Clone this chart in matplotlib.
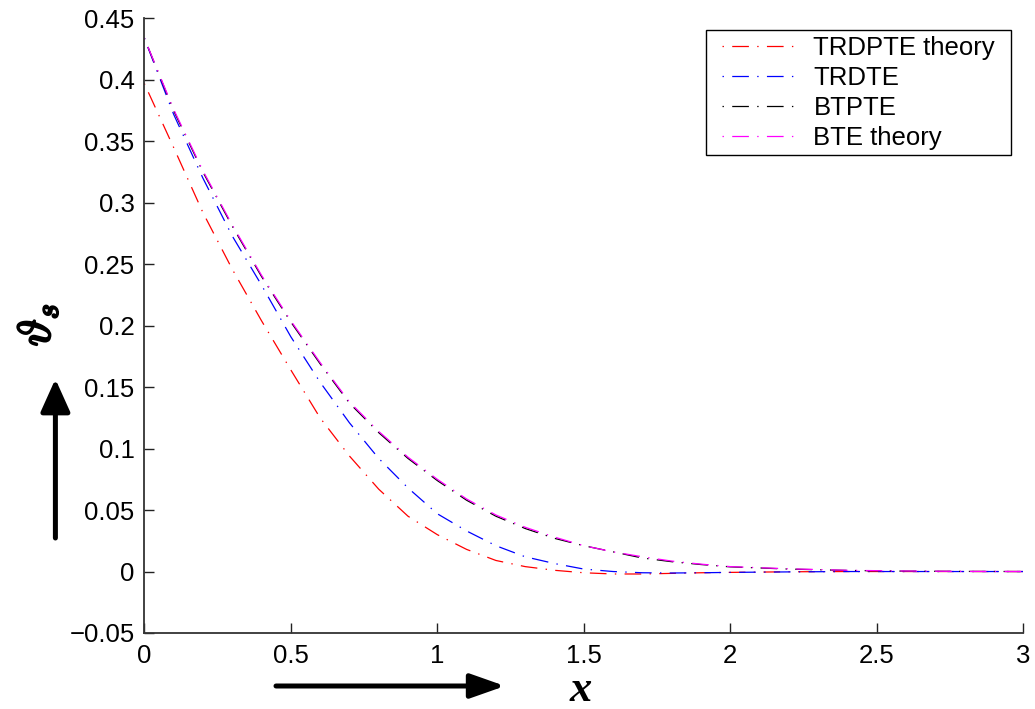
import matplotlib
matplotlib.use('Agg')
import matplotlib.pyplot as plt
import matplotlib.patheffects as pe
from matplotlib.patches import Rectangle

plt.rcParams['font.family'] = ['Liberation Sans', 'DejaVu Sans']
plt.rcParams['mathtext.fontset'] = 'cm'
plt.rcParams['lines.scale_dashes'] = False

x = [0, 0.1, 0.2, 0.3, 0.4, 0.5, 0.6, 0.7, 0.8, 0.9, 1.0, 1.1, 1.2, 1.3, 1.4,
     1.5, 1.6, 1.7, 1.8, 1.9, 2.0, 2.2, 2.4, 2.6, 2.8, 3.0]

trdpte = [0.397, 0.345, 0.292, 0.246, 0.204, 0.164, 0.125, 0.094, 0.067, 0.045,
          0.030, 0.018, 0.009, 0.004, 0.001, -0.001, -0.002, -0.002, -0.0015,
          -0.001, -0.0007, -0.0002, 0.0, 0.0, 0.0, 0.0]
trdte = [0.434, 0.372, 0.320, 0.273, 0.233, 0.191, 0.154, 0.121, 0.092, 0.068,
         0.047, 0.033, 0.021, 0.012, 0.0065, 0.002, 0.0, -0.001, -0.0012,
         -0.001, -0.0007, -0.0003, 0.0, 0.0, 0.0, 0.0]
btpte = [0.434, 0.375, 0.325, 0.281, 0.240, 0.203, 0.169, 0.137, 0.113, 0.092,
         0.074, 0.058, 0.045, 0.035, 0.027, 0.021, 0.016, 0.011, 0.008, 0.0057,
         0.0038, 0.002, 0.0009, 0.0003, 0.0001, 0.0]
bte = [0.434, 0.376, 0.326, 0.282, 0.241, 0.204, 0.170, 0.138, 0.114, 0.093,
       0.075, 0.059, 0.046, 0.036, 0.028, 0.021, 0.016, 0.012, 0.0085, 0.006,
       0.004, 0.0022, 0.001, 0.0004, 0.0001, 0.0]

labels = ['TRDPTE theory', 'TRDTE', 'BTPTE', 'BTE theory']
colors = ['#ff0000', '#0000ff', '#000000', '#ff00ff']
xticks = [0, 0.5, 1, 1.5, 2, 2.5, 3]
yticks = [-0.05, 0, 0.05, 0.1, 0.15, 0.2, 0.25, 0.3, 0.35, 0.4, 0.45]

W, H = 1035, 709
fig = plt.figure(figsize=(W / 100, H / 100), dpi=100)
ax = fig.add_axes([144.3 / W, 1 - 633 / H, (1023.3 - 144.3) / W, (633 - 18.3) / H])

# matlab style dash-dot, starting on the dot
dashdot = (18, (12, 6, 1, 6))
for ys, c, lab in zip([trdpte, trdte, btpte, bte], colors, labels):
    ax.plot(x, ys, color=c, lw=0.9, linestyle=dashdot, label=lab)

ax.set_xlim(0, 3)
ax.set_ylim(-0.05, 0.45)
ax.set_xticks(xticks)
ax.set_xticklabels(['0', '0.5', '1', '1.5', '2', '2.5', '3'])
ax.set_yticks(yticks)
ax.set_yticklabels(['\u22120.05', '0', '0.05', '0.1', '0.15', '0.2', '0.25',
                    '0.3', '0.35', '0.4', '0.45'])
ax.tick_params(direction='in', length=7, width=1, labelsize=18.5, colors='#222222')
ax.tick_params(axis='x', pad=8)
ax.tick_params(axis='y', pad=7)
for t in ax.get_xticklabels() + ax.get_yticklabels():
    t.set_color('black')
ax.spines['top'].set_visible(False)
ax.spines['right'].set_visible(False)
for s in ['left', 'bottom']:
    ax.spines[s].set_linewidth(1.3)
    ax.spines[s].set_color('#333333')

# legend box drawn separately so its padding can differ left/right vs top/bottom
box = Rectangle((705.7 / W, 1 - 155 / H), 305 / W, 125 / H, transform=fig.transFigure,
                facecolor='white', edgecolor='black', lw=1.0, clip_on=False, zorder=4)
ax.add_patch(box)
leg = ax.legend(loc='upper left', bbox_to_anchor=(721.7 / W, 1 - 36 / H),
                bbox_transform=fig.transFigure, borderaxespad=0, borderpad=0,
                fontsize=18.5, handlelength=3.1, handletextpad=0.47,
                labelspacing=0.23, frameon=False)
leg.set_zorder(5)

# axis labels
fig.text(38 / W, 1 - 325 / H, r'$\vartheta_s$', rotation=90, fontsize=33,
         ha='center', va='center',
         path_effects=[pe.withStroke(linewidth=1.6, foreground='black')])
fig.text(581 / W, 1 - 690 / H, 'x', family='Liberation Serif', weight='bold',
         style='italic', fontsize=32, ha='center', va='center')

# direction arrows
ax.annotate('', xy=(505, H - 686), xytext=(276, H - 686), xycoords='figure pixels',
            textcoords='figure pixels',
            arrowprops=dict(arrowstyle='-|>,head_length=1.05,head_width=0.37',
                            mutation_scale=20, lw=3.6, color='black',
                            shrinkA=0, shrinkB=0))
ax.annotate('', xy=(55.4, H - 379), xytext=(55.4, H - 538), xycoords='figure pixels',
            textcoords='figure pixels',
            arrowprops=dict(arrowstyle='-|>,head_length=1.0,head_width=0.45',
                            mutation_scale=20, lw=3.6, color='black',
                            shrinkA=0, shrinkB=0))

fig.savefig('out.png', dpi=100)
